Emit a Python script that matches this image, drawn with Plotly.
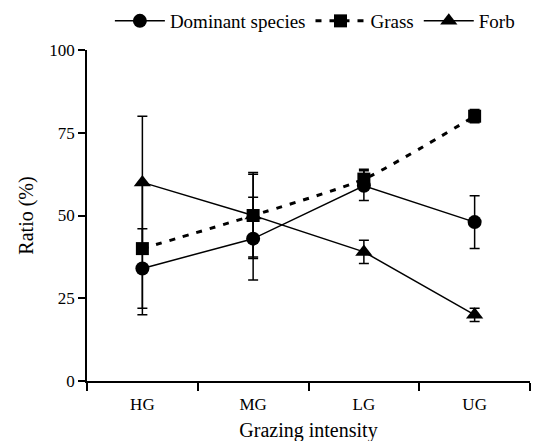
import plotly.graph_objects as go

categories = ["HG", "MG", "LG", "UG"]
dominant = [34, 43, 59, 48]
dominant_err = [12, 12.5, 4.5, 8]
grass = [40, 50, 61, 80]
grass_err = [20, 13, 3, 2]
forb = [60, 50, 39, 20]
forb_err = [20, 12.5, 3.5, 2]
y_ticks = [0, 25, 50, 75, 100]

FONT = "Times New Roman"
font = dict(family=FONT, size=17, color="black")

fig = go.Figure()

def add(name, y, err, symbol, dash, lw, size, shape="linear"):
    fig.add_trace(go.Scatter(
        x=categories, y=y, name=name, mode="lines+markers",
        line=dict(color="black", width=lw, dash=dash, shape=shape, smoothing=0.6),
        marker=dict(symbol=symbol, size=size, color="black"),
        error_y=dict(type="data", array=err, visible=True, color="black",
                     thickness=1.5, width=5),
    ))

add("Dominant species", dominant, dominant_err, "circle", "solid", 1.5, 14)
add("Grass", grass, grass_err, "square", "6px,8px", 3, 13, shape="spline")
add("Forb", forb, forb_err, "triangle-up", "solid", 1.5, 15)

fig.update_layout(
    width=548, height=441,
    margin=dict(l=79, r=26, t=42, b=68),
    paper_bgcolor="white", plot_bgcolor="white",
    font=font,
    showlegend=True,
    legend=dict(orientation="h", xref="container", yref="container",
                x=0.56, xanchor="center", y=0.9705, yanchor="middle",
                font=dict(family=FONT, size=19, color="black"),
                bgcolor="rgba(0,0,0,0)", itemwidth=50, tracegroupgap=0),
    xaxis=dict(
        type="category", range=[-0.5, 3.5], tickson="boundaries",
        ticks="outside", ticklen=8, tickwidth=1.5, tickcolor="black",
        showline=True, linecolor="black", linewidth=1.5, showgrid=False,
        zeroline=False, automargin=False, ticklabelstandoff=7,
        title=dict(text="Grazing intensity", standoff=10),
    ),
    yaxis=dict(
        range=[0, 100], tickvals=y_ticks, ticks="outside", ticklen=7,
        tickwidth=1.5, tickcolor="black", showline=True, linecolor="black",
        linewidth=1.5, showgrid=False, zeroline=False, automargin=False,
        title=dict(text="Ratio (%)", standoff=10),
    ),
)

fig.write_html("out.html")
